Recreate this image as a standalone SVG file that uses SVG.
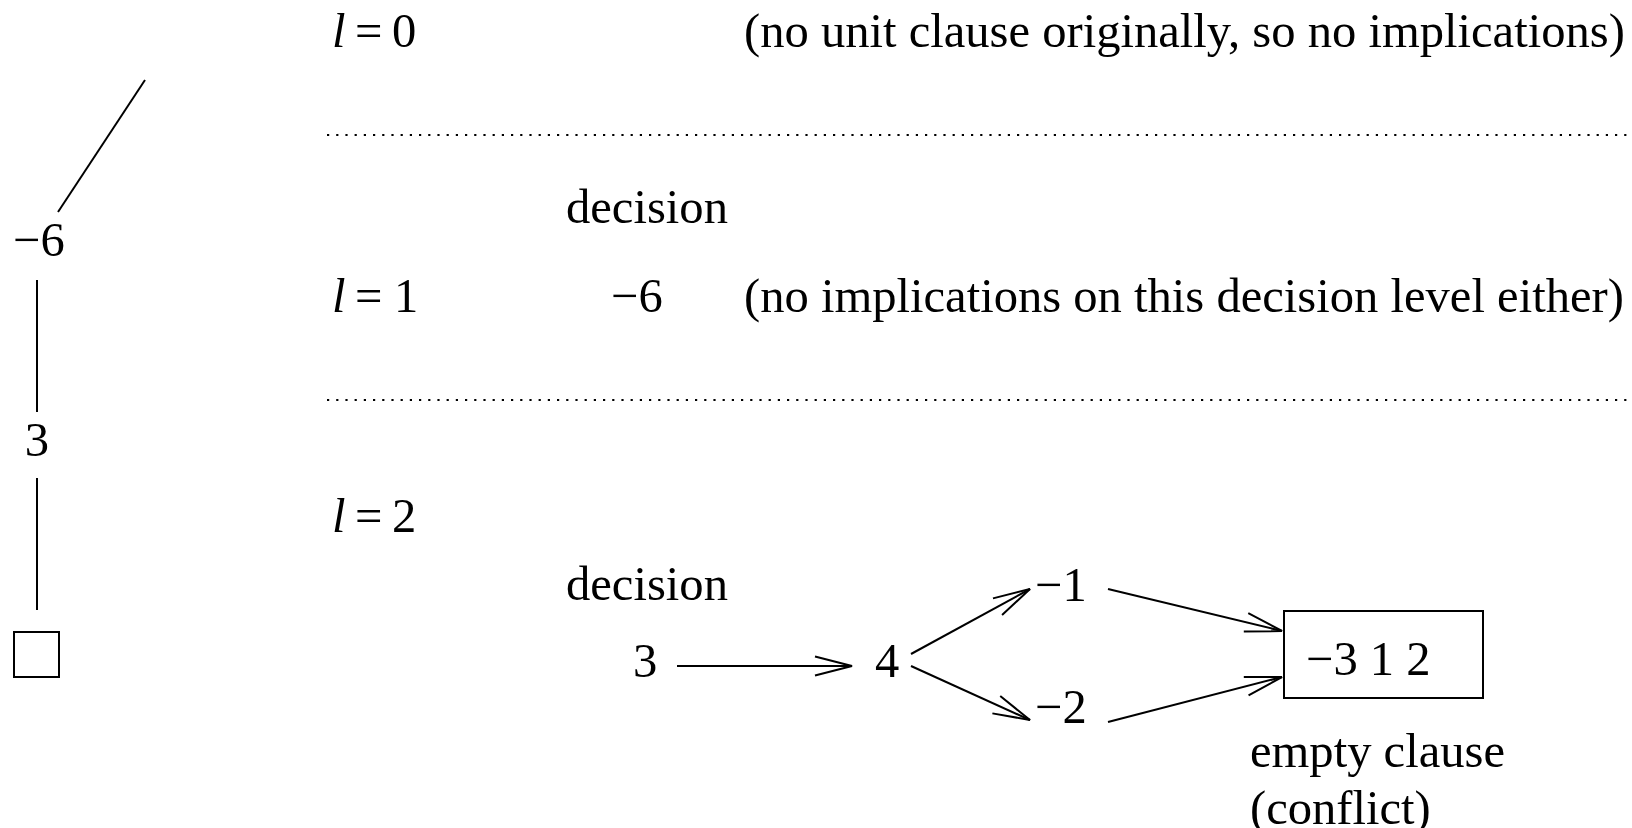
<svg xmlns="http://www.w3.org/2000/svg" width="1632" height="828" viewBox="0 0 1632 828">
<style>
text{font-family:"Liberation Serif","Times New Roman",serif;font-size:48.6px;fill:#000}
.it{font-style:italic}
.ln{stroke:#000;stroke-width:2;fill:none}
.dot{stroke:#000;stroke-width:2.2;stroke-dasharray:2.2 7;fill:none}
.arr{stroke:#000;stroke-width:2;fill:none;marker-end:url(#ah)}
</style>
<defs>
<marker id="ah" markerUnits="userSpaceOnUse" markerWidth="42" markerHeight="26" viewBox="-39 -13 42 26" refX="0" refY="0" orient="auto">
<path d="M -37 -9.5 L 0 0 L -37 9.5" fill="none" stroke="#000" stroke-width="2"/>
</marker>
</defs>
<rect width="1632" height="828" fill="#fff"/>
<g id="tree">
<line class="ln" x1="145" y1="80" x2="58" y2="212"/>
<text id="t-6" x="13" y="256">−6</text>
<line class="ln" x1="37" y1="280" x2="37" y2="412"/>
<text id="t3" x="37" y="456" text-anchor="middle">3</text>
<line class="ln" x1="37" y1="478" x2="37" y2="610"/>
<rect class="ln" x="14" y="632" width="45" height="45"/>
</g>
<g id="levels">
<text x="332" y="47"><tspan class="it">l</tspan><tspan x="355">=</tspan><tspan x="392">0</tspan></text>
<text x="744" y="47">(no unit clause originally, so no implications)</text>
<line class="dot" x1="327" y1="135" x2="1628" y2="135"/>
<text x="566" y="223">decision</text>
<text x="332" y="312"><tspan class="it">l</tspan><tspan x="355">=</tspan><tspan x="394">1</tspan></text>
<text x="611" y="312">−6</text>
<text x="744" y="312">(no implications on this decision level either)</text>
<line class="dot" x1="327" y1="400" x2="1628" y2="400"/>
<text x="332" y="532"><tspan class="it">l</tspan><tspan x="355">=</tspan><tspan x="392">2</tspan></text>
<text x="566" y="600">decision</text>
</g>
<g id="n3"><text x="633" y="677">3</text></g>
<g id="n4"><text x="875" y="677">4</text></g>
<g id="nm1"><text x="1035" y="601">−1</text></g>
<g id="nm2"><text x="1035" y="723">−2</text></g>
<g id="clause">
<rect class="ln" x="1284" y="611" width="199" height="87"/>
<text x="1306" y="675">−3 1 2</text>
<text x="1250" y="767">empty clause</text>
<text x="1250" y="824">(conflict)</text>
</g>
<g id="connectors">
<line class="arr" x1="677" y1="666" x2="852" y2="666"/>
<line class="arr" x1="911" y1="654" x2="1030" y2="589"/>
<line class="arr" x1="911" y1="666" x2="1030" y2="720"/>
<line class="arr" x1="1108" y1="589" x2="1282" y2="631"/>
<line class="arr" x1="1108" y1="722" x2="1282" y2="677"/>
</g>
</svg>
